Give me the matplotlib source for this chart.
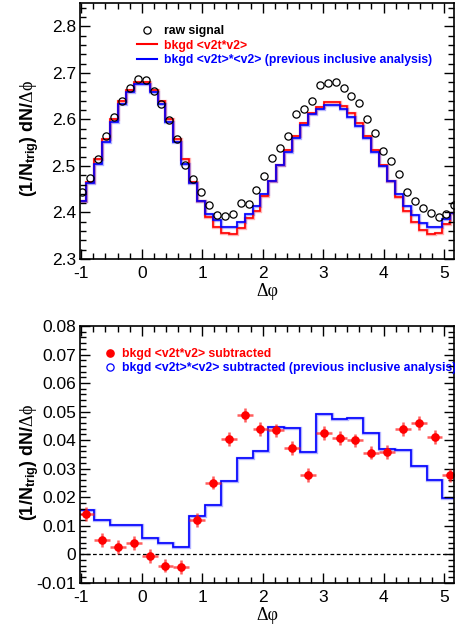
import numpy as np
import matplotlib
matplotlib.use("Agg")
import matplotlib.pyplot as plt
from matplotlib.lines import Line2D
from matplotlib.ticker import MultipleLocator, AutoMinorLocator, FuncFormatter

plt.rcParams['font.family'] = ['Liberation Sans', 'DejaVu Sans']
plt.rcParams['mathtext.fontset'] = 'custom'
plt.rcParams['mathtext.rm'] = 'Liberation Serif'
plt.rcParams['mathtext.bf'] = 'Liberation Sans:bold'
plt.rcParams['mathtext.it'] = 'Liberation Serif:italic'
plt.rcParams['axes.unicode_minus'] = False

# ---------------- data ----------------
# top panel: 48 bins of width pi/24 from -pi/3 to 5pi/3
raw_signal = [2.444, 2.473, 2.514, 2.564, 2.605, 2.639, 2.668, 2.686,
              2.684, 2.662, 2.634, 2.599, 2.557, 2.502, 2.471, 2.443,
              2.416, 2.394, 2.393, 2.396, 2.421, 2.419, 2.448, 2.479,
              2.516, 2.539, 2.565, 2.611, 2.623, 2.640, 2.673, 2.678,
              2.680, 2.667, 2.651, 2.635, 2.601, 2.571, 2.531, 2.510,
              2.482, 2.443, 2.424, 2.410, 2.399, 2.391, 2.396, 2.417]
bkgd_v2tv2 = [2.424, 2.465, 2.514, 2.557, 2.601, 2.639, 2.664, 2.680,
              2.680, 2.664, 2.639, 2.601, 2.557, 2.514, 2.465, 2.424,
              2.391, 2.369, 2.355, 2.354, 2.366, 2.388, 2.404, 2.435,
              2.468, 2.501, 2.534, 2.564, 2.593, 2.614, 2.626, 2.637,
              2.637, 2.629, 2.614, 2.593, 2.564, 2.534, 2.501, 2.468,
              2.434, 2.404, 2.380, 2.362, 2.354, 2.355, 2.375, 2.398]
bkgd_prev = [2.424, 2.464, 2.505, 2.551, 2.594, 2.634, 2.659, 2.675,
             2.675, 2.659, 2.634, 2.594, 2.551, 2.505, 2.463, 2.424,
             2.397, 2.383, 2.369, 2.369, 2.380, 2.396, 2.414, 2.439,
             2.468, 2.501, 2.530, 2.559, 2.587, 2.611, 2.623, 2.631,
             2.631, 2.623, 2.606, 2.585, 2.559, 2.530, 2.499, 2.468,
             2.439, 2.414, 2.394, 2.378, 2.369, 2.369, 2.387, 2.398]

# bottom panel: 24 bins of width pi/12
sub_v2tv2 = [0.0142, 0.0049, 0.0026, 0.0039, -0.0007, -0.0040, -0.0045, 0.0119,
             0.0251, 0.0405, 0.0488, 0.0440, 0.0434, 0.0373, 0.0277, 0.0426,
             0.0408, 0.0399, 0.0356, 0.0358, 0.0440, 0.0459, 0.0410, 0.0276]
sub_err = [0.0024] * 24
sub_prev = [0.0155, 0.0119, 0.0102, 0.0103, 0.0058, 0.0038, 0.0026, 0.0133,
            0.0174, 0.0256, 0.0338, 0.0361, 0.0447, 0.0444, 0.0358, 0.0491,
            0.0475, 0.0478, 0.0426, 0.0370, 0.0365, 0.0310, 0.0259, 0.0197]

lbl_raw = "raw signal"
lbl_red = "bkgd <v2t*v2>"
lbl_blue = "bkgd <v2t>*<v2> (previous inclusive analysis)"
lbl_red_sub = "bkgd <v2t*v2> subtracted"
lbl_blue_sub = "bkgd <v2t>*<v2> subtracted (previous inclusive analysis)"
ylab = r"(1/N$_{\mathbf{trig}}$) dN/$\mathrm{\Delta\phi}$"
xlab = "Δφ"

edges_top = np.linspace(-np.pi / 3, 5 * np.pi / 3, len(raw_signal) + 1)
cent_top = 0.5 * (edges_top[1:] + edges_top[:-1])
edges_bot = np.linspace(-np.pi / 3, 5 * np.pi / 3, len(sub_v2tv2) + 1)
cent_bot = 0.5 * (edges_bot[1:] + edges_bot[:-1])
half_bot = 0.5 * np.diff(edges_bot)

# ---------------- figure ----------------
W, H = 456, 628
fig = plt.figure(figsize=(W / 100, H / 100), dpi=100)

def px_axes(x0, x1, y0, y1):
    return fig.add_axes([x0 / W, 1 - y1 / H, (x1 - x0) / W, (y1 - y0) / H])

AX_L, AX_R = 80, 454
ax1 = px_axes(AX_L, AX_R, 3, 259)
ax2 = px_axes(AX_L, AX_R, 326, 582.7)

XLIM = (-1.0205, 5.165)
RED = '#ff0000'
BLUE = '#0000ff'
TICKFS = 12.5
LEGFS = 8.8

def style(ax):
    ax.set_xlim(*XLIM)
    ax.xaxis.set_major_locator(MultipleLocator(1))
    ax.xaxis.set_minor_locator(MultipleLocator(0.2))
    ax.yaxis.set_minor_locator(AutoMinorLocator(5))
    ax.tick_params(which='both', direction='in', top=True, right=True,
                   labelsize=TICKFS, width=1.0)
    ax.tick_params(which='major', length=7.5)
    ax.tick_params(which='minor', length=4)
    ax.tick_params(axis='y', pad=3)
    ax.tick_params(axis='x', pad=5)
    for s in ax.spines.values():
        s.set_linewidth(1.2)
    ax.set_xlabel(xlab, fontsize=13, family='Liberation Serif', labelpad=1.5)
    ax.set_ylabel(ylab, fontsize=13, fontweight='bold')
    ax.yaxis.set_label_coords((41 - AX_L) / (AX_R - AX_L), 0.47)

# top panel
ax1.stairs(bkgd_v2tv2, edges_top, color=RED, alpha=0.3, lw=2.4)
ax1.stairs(bkgd_prev, edges_top, color=BLUE, alpha=0.3, lw=2.4)
ax1.stairs(bkgd_v2tv2, edges_top, color=RED, lw=1.2)
ax1.stairs(bkgd_prev, edges_top, color=BLUE, lw=1.2)
ax1.plot(cent_top, raw_signal, 'o', ms=5.2, mfc='none', mec='black', mew=0.9)
ax1.set_ylim(2.3, 2.85)
ax1.yaxis.set_major_locator(MultipleLocator(0.1))
style(ax1)

h1 = [Line2D([], [], ls='none', marker='o', ms=5.2, mfc='none', mec='black', mew=0.9),
      Line2D([], [], color=RED, lw=1.5),
      Line2D([], [], color=BLUE, lw=1.5)]
ax1.legend(h1, [lbl_raw, lbl_red, lbl_blue], loc='upper left',
           bbox_to_anchor=(137 / W, 1 - 25 / H), bbox_transform=fig.transFigure,
           frameon=False, borderpad=0, borderaxespad=0, handlelength=1.6,
           handletextpad=0.6, labelspacing=0.22,
           prop={'weight': 'bold', 'size': LEGFS},
           labelcolor=['black', RED, BLUE])

# bottom panel
ax2.axhline(0, color='black', lw=0.9, ls=(0, (3, 2)))
ax2.stairs(sub_prev, edges_bot, color=BLUE, alpha=0.3, lw=2.4)
ax2.stairs(sub_prev, edges_bot, color=BLUE, lw=1.2)
ax2.errorbar(cent_bot, sub_v2tv2, yerr=sub_err, xerr=half_bot, fmt='o', ms=5.2,
             color=RED, ecolor=(1, 0.1, 0.1, 0.7), elinewidth=1.8, capsize=0)
ax2.set_ylim(-0.01, 0.08)
ax2.yaxis.set_major_locator(MultipleLocator(0.01))
ax2.yaxis.set_major_formatter(FuncFormatter(
    lambda v, p: '0' if abs(v) < 1e-9 else ('%.2f' % v)))
style(ax2)

h2 = [Line2D([], [], ls='none', marker='o', ms=5.2, color=RED),
      Line2D([], [], ls='none', marker='o', ms=5.2, mfc='none', mec=BLUE, mew=0.9)]
ax2.legend(h2, [lbl_red_sub, lbl_blue_sub], loc='upper left',
           bbox_to_anchor=(103.5 / W, 1 - 348 / H), bbox_transform=fig.transFigure,
           frameon=False, borderpad=0, borderaxespad=0, handlelength=1.0,
           handletextpad=0.55, labelspacing=0.15,
           prop={'weight': 'bold', 'size': LEGFS},
           labelcolor=[RED, BLUE])

fig.savefig('out.png', dpi=100)
